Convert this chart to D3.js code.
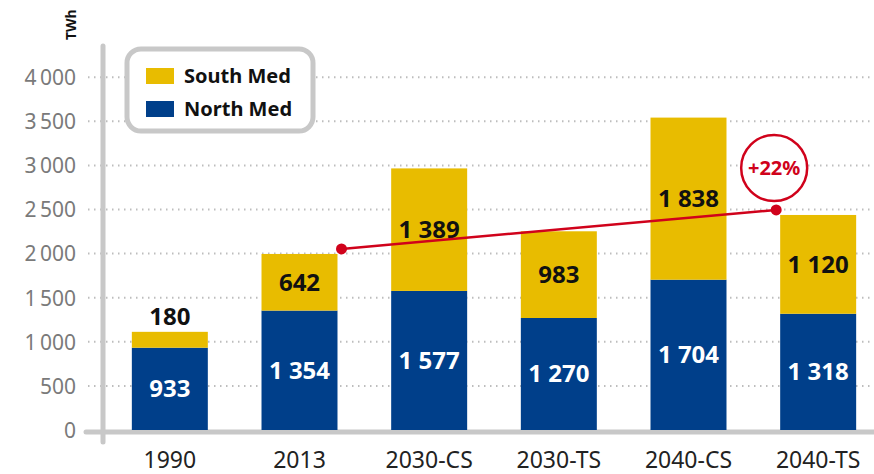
<!DOCTYPE html>
<meta charset="utf-8">
<style>
  body { margin: 0; background: #fff; }
  svg { font-family: "Noto Sans", "Open Sans", sans-serif; }
  .tick text { fill: #7a7a7a; font-size: 21px; }
  .seg-label { font-size: 24px; font-weight: bold; text-anchor: middle; }
</style>
<svg width="874" height="474"></svg>
<script src="https://d3js.org/d3.v7.min.js"></script>
<script>
  var categories = ["1990", "2013", "2030-CS", "2030-TS", "2040-CS", "2040-TS"];
  var northMed = [933, 1354, 1577, 1270, 1704, 1318];
  var southMed = [180, 642, 1389, 983, 1838, 1120];
  var yTicks = [0, 500, 1000, 1500, 2000, 2500, 3000, 3500, 4000];
  var growthFrom = "2013", growthTo = "2040-TS", growthLabel = "+22%";

  var yellow = "#E8BC00", blue = "#003F8A", red = "#D0021B", axisGrey = "#c8c8c8";

  var svg = d3.select("svg");

  var x = d3.scaleBand().domain(categories).range([105, 883]).paddingInner(0.414).paddingOuter(0.207);
  var y = d3.scaleLinear().domain([0, 4000]).range([430, 77.2]);

  var fmtTick = function(v) { return d3.format(",")(v).replace(/,/g, "\u2009"); };
  var fmt = function(v) { return d3.format(",")(v).replace(/,/g, " "); };

  // gridlines
  svg.append("g").selectAll("line")
    .data(yTicks.filter(function(d) { return d > 0; }))
    .enter().append("line")
    .attr("x1", 88).attr("x2", 874)
    .attr("y1", function(d) { return y(d); }).attr("y2", function(d) { return y(d); })
    .attr("stroke", "#bdbdbd").attr("stroke-width", 2)
    .attr("stroke-dasharray", "1.5,4.5");

  // y tick labels
  var yAxis = svg.append("g").attr("transform", "translate(103,0)")
    .call(d3.axisLeft(y).tickValues(yTicks).tickSize(0).tickPadding(27).tickFormat(fmtTick));
  yAxis.select(".domain").remove();
  yAxis.selectAll("text").attr("dy", "0.35em").style("font-family", "'Noto Sans', sans-serif");

  // axis lines
  svg.append("line").attr("x1", 103).attr("x2", 103).attr("y1", 46).attr("y2", 442)
    .attr("stroke", axisGrey).attr("stroke-width", 5).attr("stroke-linecap", "round");
  svg.append("line").attr("x1", 86).attr("x2", 880).attr("y1", y(0) + 2).attr("y2", y(0) + 2)
    .attr("stroke", axisGrey).attr("stroke-width", 5).attr("stroke-linecap", "round");

  svg.append("text").attr("transform", "translate(76,40) rotate(-90)")
    .attr("font-size", 14).attr("font-weight", "bold").attr("fill", "#111").text("TWh");

  var rows = categories.map(function(c, i) { return { cat: c, north: northMed[i], south: southMed[i] }; });

  var bars = svg.append("g").selectAll("g").data(rows).enter().append("g");
  bars.append("rect")
    .attr("x", function(d) { return x(d.cat); }).attr("width", x.bandwidth())
    .attr("y", function(d) { return y(d.north); })
    .attr("height", function(d) { return y(0) - y(d.north); })
    .attr("fill", blue);
  bars.append("rect")
    .attr("x", function(d) { return x(d.cat); }).attr("width", x.bandwidth())
    .attr("y", function(d) { return y(d.north + d.south); })
    .attr("height", function(d) { return y(d.north) - y(d.north + d.south); })
    .attr("fill", yellow);

  bars.append("text").attr("class", "seg-label")
    .attr("x", function(d) { return x(d.cat) + x.bandwidth() / 2; })
    .attr("y", function(d) { return y(d.north / 2); })
    .attr("dy", "0.35em").attr("fill", "#fff")
    .text(function(d) { return fmt(d.north); });
  bars.append("text").attr("class", "seg-label")
    .attr("x", function(d) { return x(d.cat) + x.bandwidth() / 2; })
    .attr("y", function(d) {
      var h = y(d.north) - y(d.north + d.south);
      return h < 30 ? y(d.north + d.south) - 15 : y(d.north + d.south / 2);
    })
    .attr("dy", "0.35em").attr("fill", "#111")
    .text(function(d) { return fmt(d.south); });

  // x labels
  svg.append("g").selectAll("text").data(categories).enter().append("text")
    .attr("x", function(d) { return x(d) + x.bandwidth() / 2; })
    .attr("y", 468).attr("text-anchor", "middle")
    .attr("font-size", 23).attr("fill", "#222")
    .text(function(d) { return d; });

  // growth line
  var iFrom = categories.indexOf(growthFrom), iTo = categories.indexOf(growthTo);
  var p1 = [x(growthFrom) + x.bandwidth() + 4, y(northMed[iFrom] + southMed[iFrom]) - 5];
  var p2 = [x(growthTo) - 4, y(northMed[iTo] + southMed[iTo]) - 5];
  svg.append("line").attr("x1", p1[0]).attr("y1", p1[1]).attr("x2", p2[0]).attr("y2", p2[1])
    .attr("stroke", red).attr("stroke-width", 2.5);
  svg.selectAll(".dot").data([p1, p2]).enter().append("circle")
    .attr("cx", function(d) { return d[0]; }).attr("cy", function(d) { return d[1]; })
    .attr("r", 5.5).attr("fill", red);
  svg.append("circle").attr("cx", p2[0] - 2).attr("cy", 168).attr("r", 33)
    .attr("fill", "#fff").attr("stroke", red).attr("stroke-width", 2.5);
  svg.append("text").attr("x", p2[0] - 2).attr("y", 168).attr("dy", "0.35em")
    .attr("text-anchor", "middle").attr("font-size", 20).attr("font-weight", "bold")
    .attr("fill", red).text(growthLabel);

  // legend
  var legend = svg.append("g");
  legend.append("rect").attr("x", 127).attr("y", 49).attr("width", 186).attr("height", 82)
    .attr("rx", 14).attr("fill", "#fff").attr("stroke", axisGrey).attr("stroke-width", 5);
  var items = [{ label: "South Med", color: yellow }, { label: "North Med", color: blue }];
  items.forEach(function(it, i) {
    legend.append("rect").attr("x", 146).attr("y", 68 + i * 33).attr("width", 28).attr("height", 16)
      .attr("fill", it.color);
    legend.append("text").attr("x", 184).attr("y", 76 + i * 33).attr("dy", "0.35em")
      .attr("font-size", 20).attr("font-weight", "bold").attr("fill", "#111").text(it.label);
  });
</script>
